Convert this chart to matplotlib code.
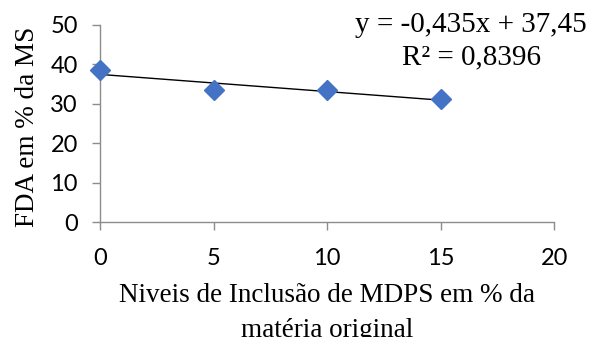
import matplotlib.pyplot as plt
import numpy as np

niveis = [0, 5, 10, 15]
fda = [38.5, 33.4, 33.5, 31.3]
slope, intercept = -0.435, 37.45
r2 = 0.8396

serif = ['Liberation Serif', 'DejaVu Serif']
sans = ['Lato', 'DejaVu Sans']

fig = plt.figure(figsize=(5.89, 3.37), dpi=100)
ax = fig.add_axes([0.170, 0.341, 0.771, 0.585])

xs = np.array([min(niveis), max(niveis)])
ax.plot(xs, slope * xs + intercept, color='black', lw=1.0, zorder=2)
ax.plot(niveis, fda, linestyle='none', marker='D', markersize=10,
        color='#4472C4', zorder=3, clip_on=False)

ax.set_xlim(0, 20)
ax.set_ylim(0, 50)
ax.set_xticks([0, 5, 10, 15, 20])
ax.set_yticks([0, 10, 20, 30, 40, 50])

for side in ['top', 'right']:
    ax.spines[side].set_visible(False)
for side in ['left', 'bottom']:
    ax.spines[side].set_color('#8c8c8c')
    ax.spines[side].set_linewidth(1.0)
ax.tick_params(direction='out', length=6, width=1.0, color='#8c8c8c',
               labelsize=17)
ax.tick_params(axis='y', pad=10)
ax.tick_params(axis='x', pad=13)
for lbl in ax.get_xticklabels() + ax.get_yticklabels():
    lbl.set_family(sans)

ax.set_xlabel('Niveis de Inclusão de MDPS em % da\nmatéria original',
              family=serif, fontsize=19.5, linespacing=1.5, va='center')
ax.xaxis.set_label_coords(0.5, -0.462)
ax.set_ylabel('FDA em % da MS', family=serif, fontsize=19.5, va='center')
ax.yaxis.set_label_coords(-0.161, 0.482)

eq = f'y = {slope:.3f}x + {intercept:.2f}'.replace('.', ',')
r2_txt = f'R² = {r2:.4f}'.replace('.', ',')
ax.text(0.817, 0.916, eq + '\n' + r2_txt, transform=ax.transAxes,
        ha='center', va='center', family=serif, fontsize=21, linespacing=1.3)

fig.savefig('out.png', dpi=100)
